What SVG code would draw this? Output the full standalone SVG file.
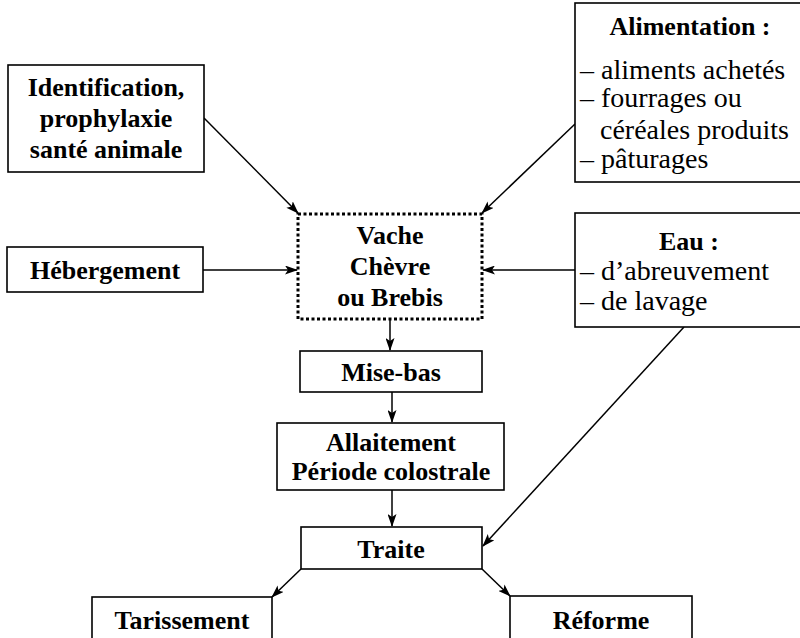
<svg xmlns="http://www.w3.org/2000/svg" width="800" height="638" viewBox="0 0 800 638">
<defs>
<style>
.box{fill:#fff;stroke:#000;stroke-width:1.6}
.dot{fill:#fff;stroke:#000;stroke-width:3;stroke-dasharray:3 2.5}
.b{font-family:"Liberation Serif","Times New Roman",serif;font-weight:bold;font-size:26px;text-anchor:middle;fill:#000}
.r{font-family:"Liberation Serif","Times New Roman",serif;font-size:28px;fill:#000}
.c{fill:none;stroke:#000;stroke-width:1.5;marker-end:url(#ah)}
</style>
<marker id="ah" markerUnits="userSpaceOnUse" markerWidth="13" markerHeight="9" refX="12" refY="4.5" orient="auto">
<path d="M0,0 L13,4.5 L0,9 L3,4.5 z" fill="#000"/>
</marker>
</defs>
<rect width="800" height="638" fill="#fff"/>
<g id="connectors">
<line class="c" x1="204" y1="118" x2="298" y2="213"/>
<line class="c" x1="575" y1="124" x2="482" y2="213"/>
<line class="c" x1="203" y1="270" x2="297" y2="270"/>
<line class="c" x1="575" y1="270" x2="483" y2="270"/>
<line class="c" x1="390" y1="320" x2="390" y2="350"/>
<line class="c" x1="392" y1="392" x2="392" y2="422"/>
<line class="c" x1="392" y1="490" x2="392" y2="526"/>
<line class="c" x1="684" y1="327" x2="483" y2="546"/>
<line class="c" x1="301" y1="569" x2="272" y2="597"/>
<line class="c" x1="482" y1="569" x2="510" y2="596"/>
</g>
<g id="identification">
<rect class="box" x="8" y="65" width="196" height="107"/>
<text class="b" x="106" y="96">Identification,</text>
<text class="b" x="106" y="127">prophylaxie</text>
<text class="b" x="106" y="158">santé animale</text>
</g>
<g id="alimentation">
<rect class="box" x="575" y="3" width="240" height="179"/>
<text class="b" x="690" y="35">Alimentation :</text>
<text class="r" x="580" y="79">– aliments achetés</text>
<text class="r" x="580" y="107">– fourrages ou</text>
<text class="r" x="600" y="139">céréales produits</text>
<text class="r" x="580" y="168">– pâturages</text>
</g>
<g id="hebergement">
<rect class="box" x="7" y="247" width="196" height="45"/>
<text class="b" x="105" y="279">Hébergement</text>
</g>
<g id="animal">
<rect class="dot" x="298" y="214" width="184" height="105"/>
<text class="b" x="390" y="244">Vache</text>
<text class="b" x="390" y="275">Chèvre</text>
<text class="b" x="390" y="306">ou Brebis</text>
</g>
<g id="eau">
<rect class="box" x="575" y="213" width="240" height="114"/>
<text class="b" x="689" y="250">Eau :</text>
<text class="r" x="580" y="280">– d’abreuvement</text>
<text class="r" x="580" y="310">– de lavage</text>
</g>
<g id="misebas">
<rect class="box" x="300" y="351" width="182" height="41"/>
<text class="b" x="391" y="381">Mise-bas</text>
</g>
<g id="allaitement">
<rect class="box" x="277" y="423" width="227" height="67"/>
<text class="b" x="391" y="451">Allaitement</text>
<text class="b" x="391" y="480">Période colostrale</text>
</g>
<g id="traite">
<rect class="box" x="301" y="527" width="181" height="42"/>
<text class="b" x="391" y="558">Traite</text>
</g>
<g id="tarissement">
<rect class="box" x="92" y="597" width="180" height="50"/>
<text class="b" x="182" y="629">Tarissement</text>
</g>
<g id="reforme">
<rect class="box" x="510" y="596" width="182" height="50"/>
<text class="b" x="601" y="629">Réforme</text>
</g>
</svg>
